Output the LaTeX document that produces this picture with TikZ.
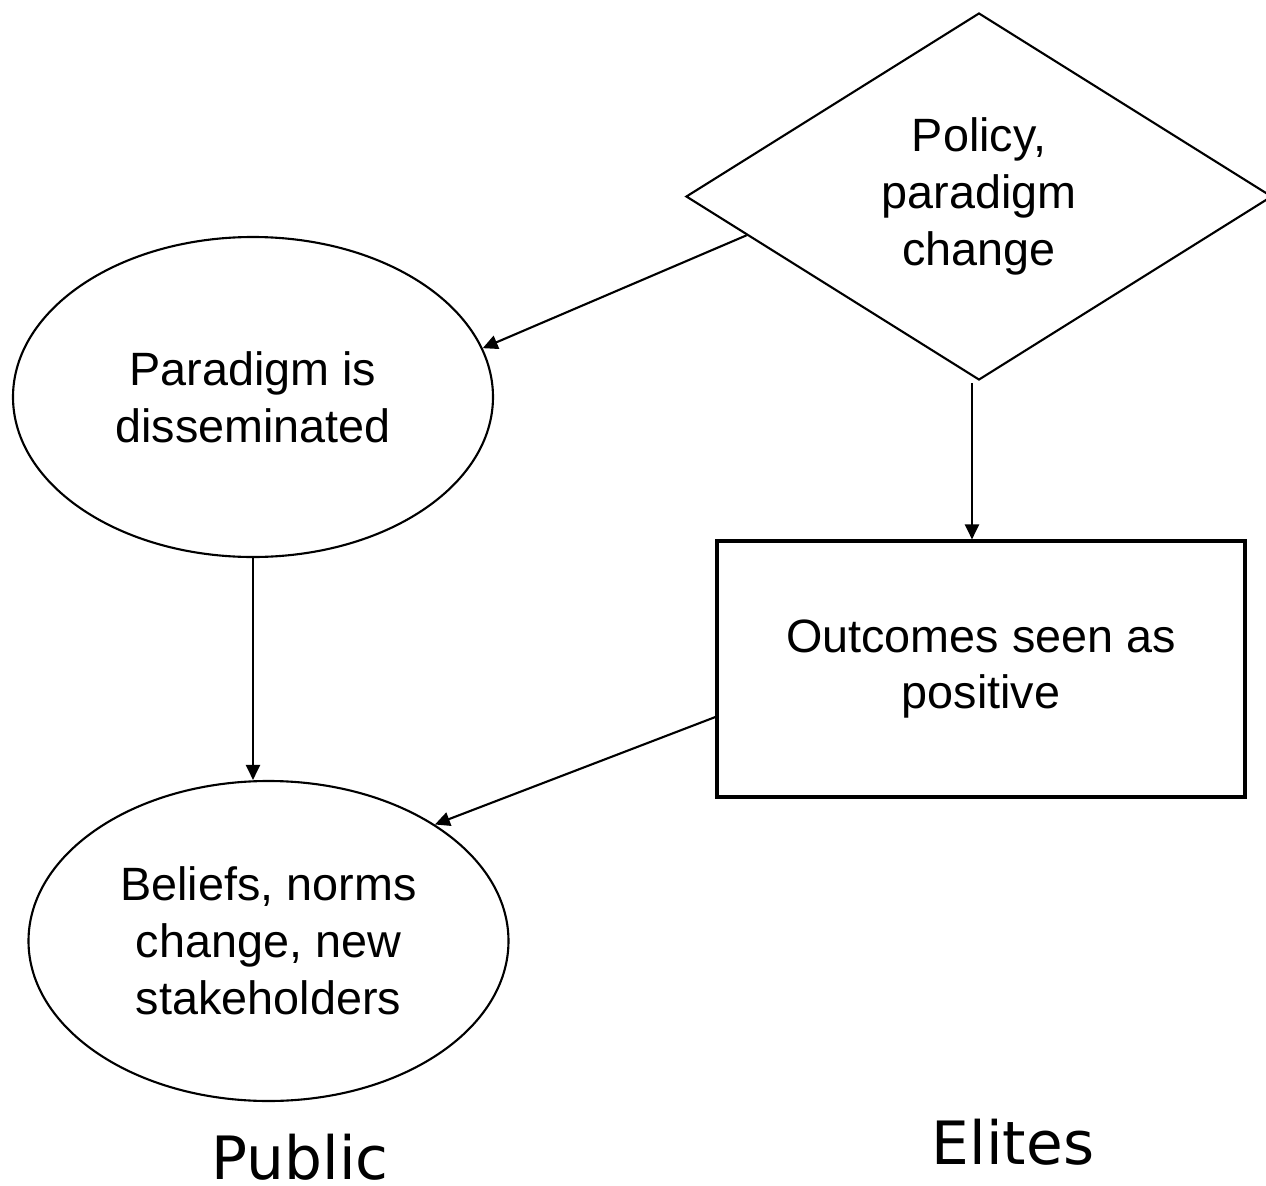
\documentclass[tikz,border=0pt]{standalone}
\usepackage{fontspec}
\setmainfont{Liberation Sans}
\newfontfamily\groupfont{DejaVu Sans}
\usetikzlibrary{shapes.geometric,arrows.meta,calc}

\begin{document}
\begin{tikzpicture}[
  every node/.style={font=\fontsize{13.3}{16.2}\selectfont, align=center, inner sep=0pt},
  shapeline/.style={draw=black, line width=0.6pt},
  oval/.style={shapeline, ellipse, minimum width=4.8cm, minimum height=3.2cm},
  choice/.style={shapeline, diamond, minimum width=5.86cm, minimum height=3.67cm},
  outcome/.style={draw=black, line width=0.9pt, rectangle, minimum width=5.28cm, minimum height=2.56cm},
  grouplabel/.style={font=\groupfont\fontsize{17}{20}\selectfont, anchor=base, text depth=0pt},
  arr/.style={line width=0.6pt, -{Triangle[length=0.15cm, width=0.14cm]}}
]
\useasboundingbox (0,0) rectangle (12.66,-11.86);

% shapes
\node[choice]  (dia)  at (9.79,-1.965) {Policy,\\paradigm\\change};
\node[oval]    (ell1) at (2.53,-3.97)  {Paradigm is\\disseminated};
\node[outcome] (rect) at (9.81,-6.69)  {Outcomes seen as\\positive};
\node[oval]    (ell2) at (2.685,-9.41) {Beliefs, norms\\change, new\\stakeholders};

% group labels
\node[grouplabel] (pub) at (3.00,-11.79) {Public};
\node[grouplabel] (eli) at (10.13,-11.64) {Elites};

% connectors
\coordinate (dstart) at ($(dia.west)!0.21!(dia.south)$);
\draw[arr] (dstart) -- (ell1.12);
\draw[arr] ([xshift=-0.07cm,yshift=-0.02cm]dia.south) -- ([xshift=-0.07cm]dia.south |- rect.north);
\draw[arr] (ell1.south) -- (ell1.south |- ell2.north);
\draw[arr] ([yshift=-0.48cm]rect.west) -- (ell2.35);
\end{tikzpicture}
\end{document}
